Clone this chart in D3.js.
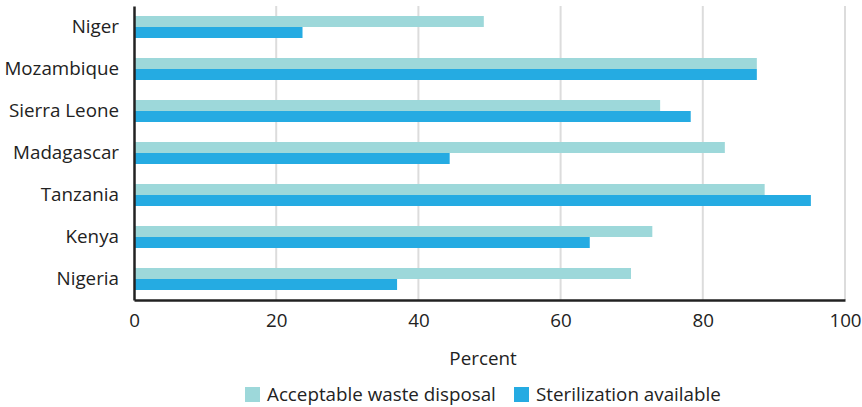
<!DOCTYPE html>
<html><head><meta charset="utf-8">
<script src="https://cdn.jsdelivr.net/npm/d3@7"></script>
<style>body{margin:0;background:#fff;} svg{display:block;font-family:"Open Sans",sans-serif;}</style>
</head><body><svg id="c" width="862" height="407"></svg>
<script>
const categories = ["Niger","Mozambique","Sierra Leone","Madagascar","Tanzania","Kenya","Nigeria"];
const wasteDisposal = [49.2, 87.6, 74.0, 83.1, 88.7, 72.9, 69.9];
const sterilization = [23.7, 87.6, 78.3, 44.4, 95.2, 64.1, 37.0];
const seriesNames = ["Acceptable waste disposal","Sterilization available"];
const xTicks = [0,20,40,60,80,100];
const colors = ["#9dd8da","#25abe2"];

const FONT = "'Open Sans',sans-serif";
const FS = 18.8;
const svg = d3.select("#c");
const m = {left:134, right:17, top:6, bottom:107};
const W = 862, H = 407;
const x = d3.scaleLinear().domain([0,100]).range([m.left, W-m.right]);
const y = d3.scaleBand().domain(categories).range([m.top, H-m.bottom]).paddingInner(20/42).paddingOuter(10/42);
const sub = d3.scaleBand().domain([0,1]).range([0, y.bandwidth()]);

// gridlines
svg.append("g").selectAll("line").data(xTicks.slice(1)).join("line")
  .attr("x1",d=>x(d)).attr("x2",d=>x(d)).attr("y1",m.top).attr("y2",H-m.bottom)
  .attr("stroke","#dcdcdc").attr("stroke-width",2);

const series = [wasteDisposal, sterilization];
series.forEach((vals,si)=>{
  svg.append("g").selectAll("rect").data(categories).join("rect")
    .attr("x",x(0)).attr("y",(d)=>y(d)+sub(si))
    .attr("width",(d,i)=>x(vals[i])-x(0)).attr("height",sub.bandwidth())
    .attr("fill",colors[si]);
});

// x axis
const xa = svg.append("g").attr("transform",`translate(0,${H-m.bottom})`)
  .call(d3.axisBottom(x).tickValues(xTicks).tickSize(0).tickPadding(14));
xa.select(".domain").attr("stroke","#222").attr("stroke-width",2.5);
xa.selectAll("text").attr("font-size",FS).attr("fill","#222").attr("font-family",FONT);

// y axis
const ya = svg.append("g").attr("transform",`translate(${m.left},0)`)
  .call(d3.axisLeft(y).tickSize(0).tickPadding(15));
ya.select(".domain").attr("stroke","#222").attr("stroke-width",2.5);
ya.selectAll("text").attr("font-size",FS).attr("fill","#222").attr("font-family",FONT);

svg.append("text").attr("x",483).attr("y",365).attr("text-anchor","middle")
  .attr("font-size",FS).attr("fill","#222").text("Percent");

// legend
const lg = svg.append("g");
const legendX = [245, 514];
seriesNames.forEach((n,i)=>{
  lg.append("rect").attr("x",legendX[i]).attr("y",387).attr("width",15).attr("height",15).attr("fill",colors[i]);
  lg.append("text").attr("x",legendX[i]+22).attr("y",401).attr("font-size",FS).attr("fill","#222").text(n);
});
</script></body></html>
